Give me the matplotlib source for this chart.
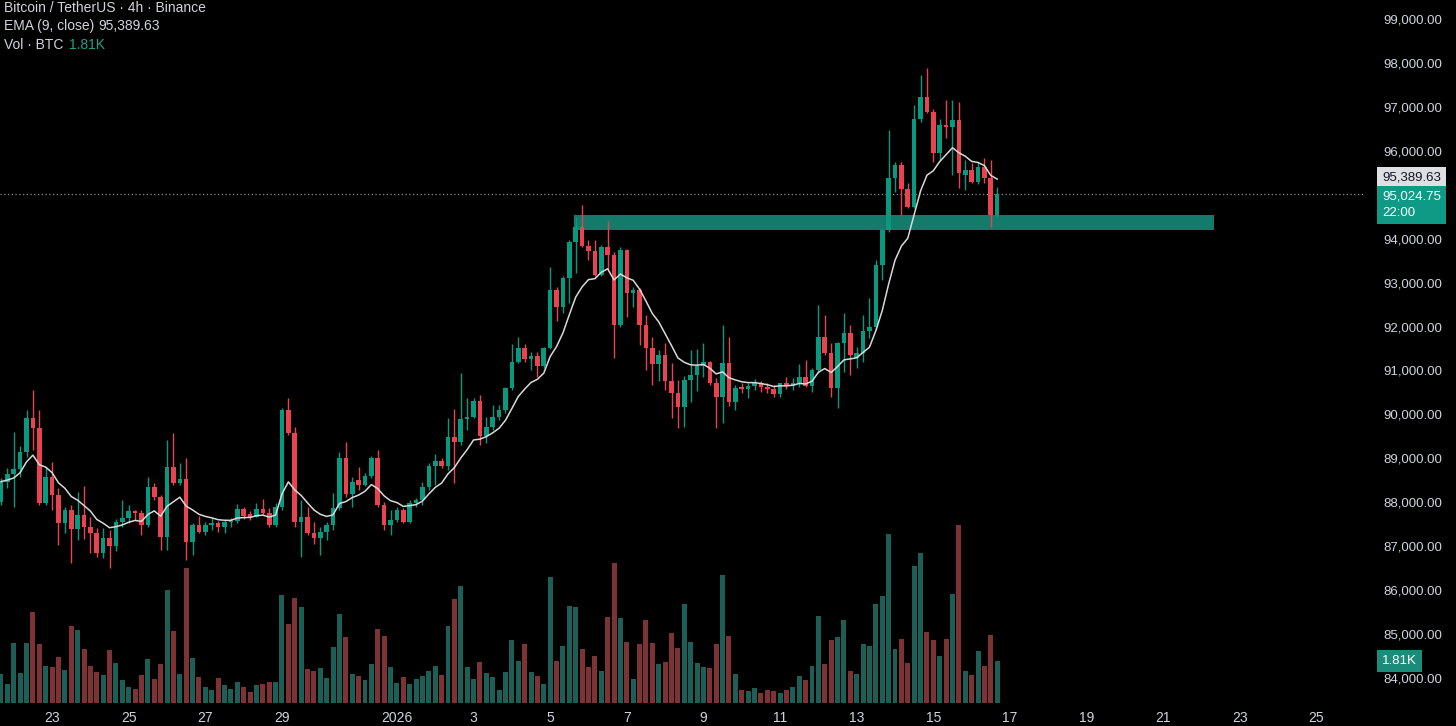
import numpy as np
import pandas as pd
import matplotlib
matplotlib.use("Agg")
import matplotlib.pyplot as plt
import matplotlib.dates as mdates
import matplotlib.transforms as mtrans

plt.rcParams['font.family'] = ['Liberation Sans', 'DejaVu Sans']

# BTCUSDT 4h candles, first one opens 2025-12-21 16:00
first_candle = "2025-12-21 16:00"
opens = [88010, 88470, 88640, 88750, 89150, 89910, 89680, 87980, 88580, 88170,
         87520, 87820, 87380, 87710, 87440, 87290, 86850, 87180, 87010, 87540,
         87640, 87790, 87750, 87480, 88350, 88130, 87200, 88810, 88430, 88520,
         87100, 87480, 87330, 87480, 87520, 87430, 87540, 87580, 87850, 87730,
         87670, 87850, 87760, 87480, 87900, 90100, 89570, 87540, 87660, 87310,
         87180, 87330, 87480, 87860, 89000, 88190, 88500, 88390, 88600, 89010,
         87940, 87480, 87600, 87820, 87560, 87990, 88040, 88350, 88830, 88940,
         88830, 89480, 89360, 89890, 89950, 90300, 89510, 89720, 89930, 90100,
         90590, 91200, 91500, 91250, 91330, 91090, 91500, 92830, 92450, 93100,
         93930, 94270, 93830, 93730, 93170, 93820, 93630, 92040, 93740, 92760,
         92830, 92040, 91500, 91150, 91350, 90770, 90480, 90160, 90780, 90900,
         91090, 91200, 90710, 90400, 91160, 90290, 90620, 90570, 90650, 90720,
         90620, 90570, 90470, 90710, 90650, 90720, 90860, 90650, 91000, 91770,
         91390, 90590, 91630, 91850, 91290, 91390, 91900, 92000, 93400, 94200,
         95370, 95680, 95130, 94720, 96720, 97220, 96880, 95950, 96590, 96540,
         96700, 95450, 95560, 95290, 95630, 95380, 94540]
highs = [88550, 88780, 89600, 89270, 90100, 90550, 90100, 88800, 88920, 88330,
         87900, 87940, 88240, 88370, 87670, 87410, 87410, 87370, 87610, 88050,
         87940, 87820, 87820, 88580, 88440, 88170, 89420, 89570, 88890, 89000,
         87520, 87690, 87560, 87640, 87580, 87600, 87640, 87960, 87900, 87810,
         87980, 88070, 87860, 87980, 90140, 90370, 89710, 88050, 87900, 87560,
         87440, 87560, 88200, 89150, 89360, 88580, 88810, 88660, 89050, 89190,
         88010, 87820, 87900, 87860, 88050, 88090, 88470, 88890, 89090, 89000,
         89910, 90120, 90940, 90370, 90370, 90440, 89950, 90210, 90210, 90630,
         91600, 91770, 91600, 91430, 91430, 91540, 93350, 92900, 93140, 93970,
         94500, 94770, 93970, 93970, 93860, 94410, 93700, 93820, 93760, 92900,
         92870, 92260, 91770, 91470, 91620, 91160, 90780, 90870, 91470, 91480,
         91620, 91220, 90820, 92040, 91750, 90670, 90710, 90710, 90800, 90770,
         90720, 90670, 90720, 90840, 90820, 91150, 91240, 91050, 92490, 92260,
         91620, 91650, 92300, 92040, 91540, 92260, 92640, 93510, 94240, 96470,
         95750, 95750, 95270, 97040, 97720, 97880, 96960, 96720, 97160, 97160,
         97110, 95790, 95720, 95740, 95840, 95790, 95180]
lows = [87940, 88330, 87900, 88580, 89040, 89190, 87940, 87940, 87820, 87030,
        87290, 86610, 87140, 87160, 86840, 86760, 86720, 86500, 86900, 87440,
        87520, 87600, 87260, 87440, 88050, 86910, 86910, 88390, 88390, 86690,
        86800, 87290, 87260, 87370, 87330, 87290, 87440, 87520, 87610, 87600,
        87660, 87710, 87440, 87430, 87820, 89530, 87440, 86760, 87260, 87050,
        86800, 87140, 87370, 87820, 88130, 87900, 88280, 88360, 88550, 87900,
        87370, 87260, 87560, 87520, 87520, 87900, 87940, 88280, 88390, 88770,
        88730, 88430, 89300, 89650, 89910, 89300, 89340, 89650, 89870, 90030,
        90550, 91160, 91200, 91010, 90860, 91050, 91480, 92130, 92300, 92530,
        93210, 93800, 93510, 93150, 93150, 93310, 91280, 92000, 92220, 92450,
        91580, 91010, 90670, 90750, 90560, 89910, 89680, 89720, 90290, 90540,
        90860, 90670, 89680, 89800, 90180, 90100, 90490, 90370, 90560, 90520,
        90490, 90400, 90390, 90570, 90560, 90630, 90620, 90520, 90940, 91350,
        90400, 90140, 90970, 90900, 91050, 91200, 91730, 91920, 93060, 94160,
        95070, 94540, 94690, 94690, 96660, 96850, 95750, 95790, 96290, 95450,
        95150, 95110, 95270, 95240, 95270, 94270, 94490]
closes = [88470, 88640, 88750, 89150, 89910, 89680, 87980, 88580, 88170, 87520,
          87820, 87380, 87710, 87440, 87290, 86850, 87180, 87010, 87540, 87640,
          87790, 87750, 87480, 88350, 88130, 87200, 88810, 88430, 88520, 87100,
          87480, 87330, 87480, 87520, 87430, 87540, 87580, 87850, 87690, 87670,
          87850, 87760, 87480, 87900, 90100, 89570, 87540, 87660, 87310, 87180,
          87330, 87480, 87860, 89000, 88190, 88470, 88390, 88600, 89010, 87940,
          87480, 87600, 87820, 87560, 87990, 88040, 88350, 88830, 88940, 88830,
          89480, 89360, 89890, 89950, 90300, 89510, 89720, 89930, 90100, 90590,
          91200, 91500, 91250, 91330, 91090, 91500, 92830, 92450, 93100, 93930,
          94270, 93830, 93730, 93170, 93820, 93630, 92040, 93740, 92760, 92830,
          92040, 91500, 91150, 91350, 90770, 90480, 90160, 90780, 90900, 91090,
          91200, 90710, 90400, 91160, 90290, 90590, 90570, 90650, 90720, 90620,
          90570, 90470, 90710, 90650, 90720, 90860, 90650, 91000, 91770, 91390,
          90590, 91630, 91850, 91350, 91390, 91900, 92000, 93400, 94200, 95370,
          95680, 95130, 94720, 96720, 97220, 96880, 95950, 96590, 96540, 96700,
          95500, 95560, 95290, 95630, 95380, 94540, 95024.75]
# volume in thousands of BTC
volumes = [1.26, 0.83, 2.59, 1.29, 2.59, 3.91, 2.54, 1.61, 1.54, 2.00,
           1.42, 3.33, 3.16, 2.34, 1.61, 1.35, 1.21, 2.30, 1.72, 1.01,
           0.69, 0.62, 1.22, 1.90, 1.05, 1.70, 4.89, 3.12, 1.26, 5.82,
           1.95, 1.14, 0.70, 0.57, 1.09, 0.79, 0.62, 0.91, 0.70, 0.47,
           0.79, 0.83, 0.92, 0.92, 4.67, 3.42, 4.53, 4.14, 1.48, 1.39,
           1.52, 1.09, 2.43, 3.85, 2.85, 1.26, 1.15, 1.01, 1.70, 3.20,
           2.90, 1.57, 0.86, 1.14, 0.83, 1.05, 1.18, 1.39, 1.61, 1.22,
           3.31, 4.50, 5.06, 1.54, 1.05, 1.78, 1.31, 1.14, 0.57, 1.35,
           2.70, 1.82, 2.56, 1.35, 1.18, 0.83, 5.45, 1.82, 2.47, 4.20,
           4.14, 2.34, 1.54, 2.04, 1.39, 3.71, 6.04, 3.68, 2.64, 1.05,
           2.56, 3.59, 2.60, 1.70, 1.77, 3.03, 2.37, 4.28, 2.62, 1.71,
           1.54, 1.49, 2.53, 5.53, 2.87, 1.26, 0.55, 0.50, 0.66, 0.42,
           0.55, 0.50, 0.45, 0.55, 0.70, 1.15, 0.98, 1.61, 3.74, 1.67,
           2.70, 2.83, 3.56, 1.37, 1.26, 2.53, 2.46, 4.25, 4.63, 7.30,
           2.31, 2.77, 1.71, 5.89, 6.48, 3.05, 2.73, 2.01, 2.74, 4.71,
           7.66, 1.37, 1.19, 2.23, 1.58, 2.92, 1.81]

ema_last = 95389.63
countdown = "22:00"

# support zone drawn on the chart
zone_low, zone_high = 94200, 94540
zone_start, zone_end = "2026-01-05 15:00", "2026-01-22 08:00"

tick_dates = ["2025-12-23", "2025-12-25", "2025-12-27", "2025-12-29", "2026-01-01",
              "2026-01-03", "2026-01-05", "2026-01-07", "2026-01-09", "2026-01-11",
              "2026-01-13", "2026-01-15", "2026-01-17", "2026-01-19", "2026-01-21",
              "2026-01-23", "2026-01-25"]
tick_labels = ["23", "25", "27", "29", "2026", "3", "5", "7", "9", "11", "13", "15",
               "17", "19", "21", "23", "25"]
# 95,000 sits under the price badges on the reference, so it is not shown
price_ticks = [84000, 85000, 86000, 87000, 88000, 89000, 90000, 91000, 92000,
               93000, 94000, 96000, 97000, 98000, 99000]

GREEN = "#089981"
RED = "#e8434e"
VGREEN = "#1d5f56"
VRED = "#7d3333"
TXT = "#d1d4dc"

o = np.array(opens, dtype=float)
h = np.array(highs, dtype=float)
l = np.array(lows, dtype=float)
c = np.array(closes, dtype=float)
v = np.array(volumes)
times = pd.date_range(first_candle, periods=len(c), freq="4h")
x = mdates.date2num(times)
step = 4 / 24
up = c >= o
ema = pd.Series(c).ewm(span=9, adjust=False).mean().values

W, H = 1456, 726
fig = plt.figure(figsize=(W / 100, H / 100), dpi=100, facecolor="black")
rect = [0, 19 / H, 1365 / W, 707 / H]
axv = fig.add_axes(rect)
axv.set_facecolor("black")
ax = fig.add_axes(rect, sharex=axv)
ax.patch.set_alpha(0)

# volume
axv.bar(x, v, width=step * 0.78, color=np.where(up, VGREEN, VRED), linewidth=0)
axv.set_ylim(-0.17, 30.3)
axv.axis("off")

# zone
ax.fill_between(mdates.date2num(pd.to_datetime([zone_start, zone_end])),
                zone_low, zone_high, color="#137b69", lw=0, zorder=1)

# candles
cols = np.where(up, GREEN, RED)
ax.vlines(x, l, h, colors=cols, lw=1, zorder=2)
body = np.maximum(np.abs(c - o), 25)
ax.bar(x, body, bottom=np.minimum(o, c), width=step * 0.72, color=cols,
       linewidth=0, zorder=3)

ax.plot(x, ema, color="#d9d9d9", lw=1.1, zorder=4)
ax.axhline(c[-1], color="#8a8d96", lw=0.9, ls=(0, (1, 2)), zorder=1)

ax.set_xlim(x[0] - 0.157 * step, x[0] + 213.6 * step)
ax.set_ylim(83339, 99432)

ax.set_yticks(price_ticks)
ax.set_yticklabels([f"{t:,.2f}" for t in price_ticks])
ax.yaxis.tick_right()
ax.tick_params(axis="y", length=0, pad=13, labelcolor=TXT, labelsize=9.5)
ax.set_xticks(mdates.date2num(pd.to_datetime(tick_dates)))
ax.set_xticklabels(tick_labels)
ax.tick_params(axis="x", length=0, pad=3, labelcolor=TXT, labelsize=10)
for s in ax.spines.values():
    s.set_visible(False)

# price badges on the right
tr = mtrans.blended_transform_factory(fig.transFigure, ax.transData)
bx = 1382 / W
ax.text(bx, ema_last, f"{ema_last:,.2f}", transform=tr,
        ha="left", va="center", fontsize=9.5, color="#131722", zorder=10,
        bbox=dict(boxstyle="square,pad=0.38", fc="#dedfe3", ec="none"))
ax.annotate(f"{c[-1]:,.2f}\n{countdown}", xy=(bx, c[-1]), xycoords=tr,
            xytext=(0, 3), textcoords="offset pixels", ha="left", va="top",
            fontsize=9.5, color="white", linespacing=1.5, zorder=10,
            bbox=dict(boxstyle="square,pad=0.38", fc="#0e9a84", ec="none"))
trv = mtrans.blended_transform_factory(fig.transFigure, axv.transData)
axv.text(bx, v[-1], f"{v[-1]:.2f}K", transform=trv, ha="left", va="center",
         fontsize=9.5, color="white", zorder=10,
         bbox=dict(boxstyle="square,pad=0.38", fc="#1b8b7a", ec="none"))

# legend text top left
fig.text(4 / W, 1 - 8 / H, "Bitcoin / TetherUS · 4h · Binance", color=TXT,
         fontsize=10, va="center")
fig.text(4 / W, 1 - 26 / H, "EMA (9, close)", color=TXT, fontsize=10, va="center")
fig.text(98 / W, 1 - 26 / H, f"{ema_last:,.2f}", color=TXT, fontsize=10, va="center")
fig.text(4 / W, 1 - 45 / H, "Vol · BTC", color=TXT, fontsize=10, va="center")
fig.text(69 / W, 1 - 45 / H, f"{v[-1]:.2f}K", color="#22a08e", fontsize=10,
         va="center")

fig.savefig("out.png", dpi=100, facecolor="black")
